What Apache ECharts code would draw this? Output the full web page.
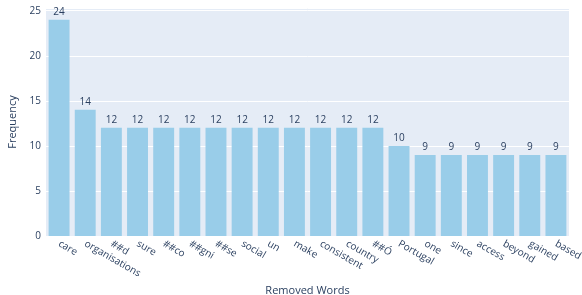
<!DOCTYPE html>
<html>
<head>
<meta charset="utf-8">
<script src="https://cdn.jsdelivr.net/npm/echarts@6/dist/echarts.min.js"></script>
<style>
  html, body { margin: 0; padding: 0; background: #fff; }
  #chart { width: 582px; height: 295px; }
</style>
</head>
<body>
<div id="chart"></div>
<script>
// removed words and their counts
var words = ["care", "organisations", "##d", "sure", "##co", "##gni", "##se", "social", "un", "make",
  "consistent", "country", "##Ó", "Portugal", "one", "since", "access", "beyond", "gained", "based"];
var counts = [24, 14, 12, 12, 12, 12, 12, 12, 12, 12, 12, 12, 12, 10, 9, 9, 9, 9, 9, 9];

var font = "'Open Sans', sans-serif";
var ink = "#2a3f5f";

var chart = echarts.init(document.getElementById("chart"));
chart.setOption({
  animation: false,
  grid: {
    left: 46,
    right: 13,
    top: 8,
    bottom: 59,
    outerBoundsMode: "none",
    containLabel: false,
    show: true,
    backgroundColor: "#e5ecf6",
    borderWidth: 0
  },
  xAxis: {
    type: "category",
    data: words,
    name: "Removed Words",
    nameLocation: "middle",
    nameGap: 45,
    nameTextStyle: { color: ink, fontFamily: font, fontSize: 11 },
    axisLine: { show: false },
    axisTick: { show: false },
    axisLabel: {
      interval: 0,
      rotate: -30,
      color: ink,
      fontFamily: font,
      fontSize: 10,
      margin: 7
    }
  },
  yAxis: {
    type: "value",
    min: 0,
    max: 25.3,
    interval: 5,
    name: "Frequency",
    nameLocation: "middle",
    nameGap: 26,
    nameTextStyle: { color: ink, fontFamily: font, fontSize: 11 },
    axisLine: { show: false },
    axisTick: { show: false },
    axisLabel: {
      color: ink,
      fontFamily: font,
      fontSize: 10,
      margin: 5,
      showMaxLabel: false,
      formatter: function (v) { return v % 5 === 0 ? v : ""; }
    },
    splitLine: { lineStyle: { color: "#ffffff", width: 1 } }
  },
  series: [{
    type: "bar",
    data: counts,
    barCategoryGap: "20%",
    itemStyle: { color: "#99cde9" },
    label: {
      show: true,
      position: "top",
      distance: 3,
      color: ink,
      fontFamily: font,
      fontSize: 10
    }
  }]
});
</script>
</body>
</html>
